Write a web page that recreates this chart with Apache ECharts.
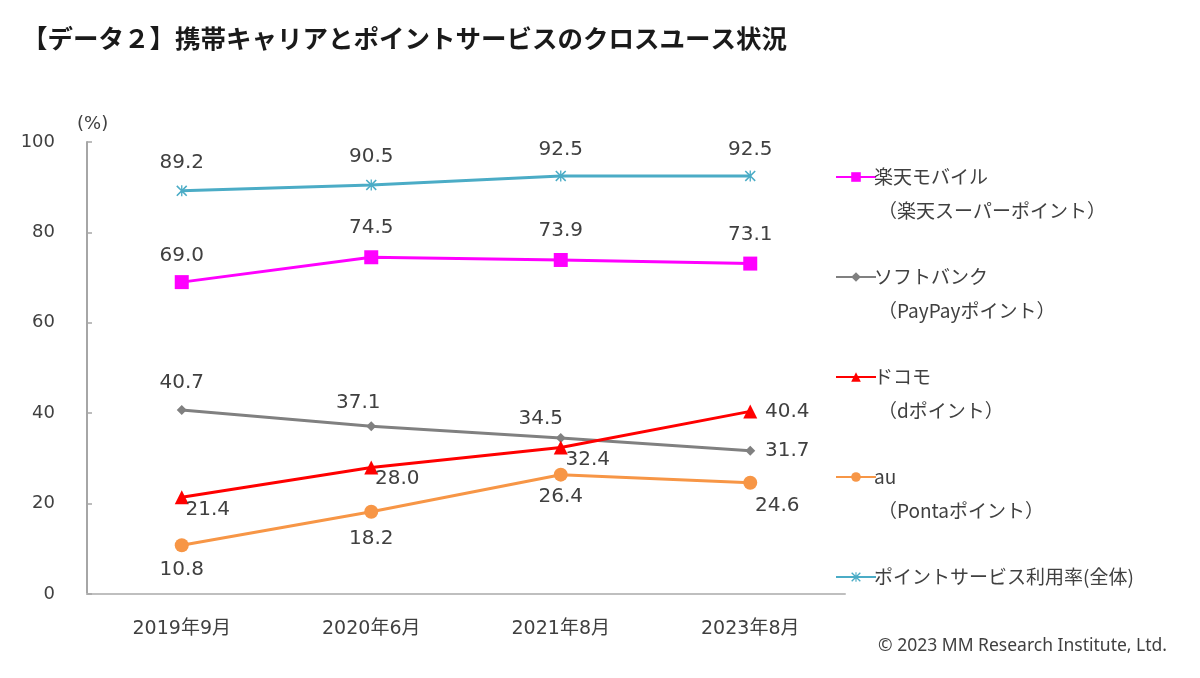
<!DOCTYPE html>
<html>
<head>
<meta charset="utf-8">
<script src="https://cdn.jsdelivr.net/npm/echarts@6/dist/echarts.min.js"></script>
<style>
  html, body { margin: 0; padding: 0; background: #fff; }
  #chart { width: 1200px; height: 678px; }
</style>
</head>
<body>
<div id="chart"></div>
<script>
const categories = ['2019年9月', '2020年6月', '2021年8月', '2023年8月'];
const yTicks = [0, 20, 40, 60, 80, 100];

const rakuten = [69.0, 74.5, 73.9, 73.1];
const softbank = [40.7, 37.1, 34.5, 31.7];
const docomo = [21.4, 28.0, 32.4, 40.4];
const au = [10.8, 18.2, 26.4, 24.6];
const total = [89.2, 90.5, 92.5, 92.5];

const seriesNames = ['楽天モバイル', 'ソフトバンク', 'ドコモ', 'au', 'ポイントサービス利用率(全体)'];
const subNames = ['（楽天スーパーポイント）', '（PayPayポイント）', '（dポイント）', '（Pontaポイント）'];

const titleText = '【データ２】携帯キャリアとポイントサービスのクロスユース状況';
const copyright = '© 2023 MM Research Institute, Ltd.';

// label offsets (style, in px) relative to symbol centre
const offRakuten = [[0, -26], [0, -29], [0, -29], [0, -29]];
const offSoftbank = [[0, -27], [-13, -24], [-20, -19], [37, 0]];
const offDocomo = [[26, 13], [26, 11], [27, 12], [37, 0]];
const offAu = [[0, 25], [0, 27], [0, 22], [27, 23]];
const offTotal = [[0, -28], [0, -28], [0, -26], [0, -26]];

const TXT = '#404040';
const NUMFONT = "'DejaVu Sans', 'Noto Sans CJK JP', sans-serif";
const JPFONT = "'Noto Sans CJK JP', sans-serif";

function mk(values, offs) {
  return values.map((v, i) => ({
    value: v,
    label: { offset: offs[i] }
  }));
}

const asterisk = 'path://M0,1L1,0L5,4L9,0L10,1L6,5L10,9L9,10L5,6L1,10L0,9L4,5Z M4.4,0L5.6,0L5.6,10L4.4,10Z';

function line(name, values, offs, color, symbol, size) {
  return {
    name: name,
    type: 'line',
    data: mk(values, offs),
    symbol: symbol,
    symbolSize: size,
    lineStyle: { color: color, width: 3 },
    itemStyle: { color: color },
    z: 3,
    label: {
      show: true,
      position: 'inside',
      align: 'center',
      verticalAlign: 'middle',
      fontSize: 20,
      fontFamily: NUMFONT,
      color: TXT,
      formatter: p => p.value.toFixed(1)
    },
    emphasis: { disabled: true },
    animation: false
  };
}

const chart = echarts.init(document.getElementById('chart'));
chart.setOption({
  backgroundColor: '#ffffff',
  animation: false,
  title: {
    text: titleText,
    left: 17,
    top: 21,
    textStyle: { fontSize: 25.5, fontWeight: 'bold', color: '#1a1a1a', fontFamily: JPFONT }
  },
  grid: { left: 87, right: 355, top: 142, bottom: 84 },
  legend: {
    orient: 'vertical',
    left: 830,
    top: 162,
    itemWidth: 40,
    itemHeight: 12,
    itemGap: 80,
    data: seriesNames,
    textStyle: { fontSize: 19, color: TXT, fontFamily: JPFONT, lineHeight: 20, padding: [0, 0, 0, -7] }
  },
  xAxis: {
    type: 'category',
    data: categories,
    boundaryGap: true,
    axisLine: { lineStyle: { color: '#BFBFBF', width: 2 } },
    axisTick: { show: false },
    axisLabel: { margin: 26, fontSize: 19, color: TXT, fontFamily: NUMFONT }
  },
  yAxis: {
    type: 'value',
    min: yTicks[0],
    max: yTicks[yTicks.length - 1],
    interval: 20,
    name: '(%)',
    nameLocation: 'end',
    nameGap: 9,
    nameTextStyle: { fontSize: 18, color: TXT, fontFamily: NUMFONT, align: 'left', padding: [0, 0, 0, -10] },
    axisLine: { show: true, lineStyle: { color: '#A6A6A6', width: 2 } },
    axisTick: { show: true, inside: true, length: 5, lineStyle: { color: '#A6A6A6', width: 1.5 } },
    splitLine: { show: false },
    axisLabel: { margin: 32, fontSize: 18, color: TXT, fontFamily: NUMFONT }
  },
  series: [
    line(seriesNames[0], rakuten, offRakuten, '#FF00FF', 'rect', 14),
    line(seriesNames[1], softbank, offSoftbank, '#808080', 'diamond', 10),
    line(seriesNames[2], docomo, offDocomo, '#FF0000', 'triangle', 14),
    line(seriesNames[3], au, offAu, '#F79646', 'circle', 14),
    line(seriesNames[4], total, offTotal, '#4BACC6', asterisk, 11)
  ],
  graphic: [
    ...subNames.map((t, i) => ({
      type: 'text',
      left: 878,
      top: 201 + i * 100,
      style: { text: t, fontSize: 19, fill: TXT, fontFamily: JPFONT }
    })),
    {
      type: 'text',
      right: 33,
      top: 637,
      style: { text: copyright, fontSize: 17.5, fill: TXT, fontFamily: "'Noto Sans', sans-serif" }
    }
  ]
});
</script>
</body>
</html>
